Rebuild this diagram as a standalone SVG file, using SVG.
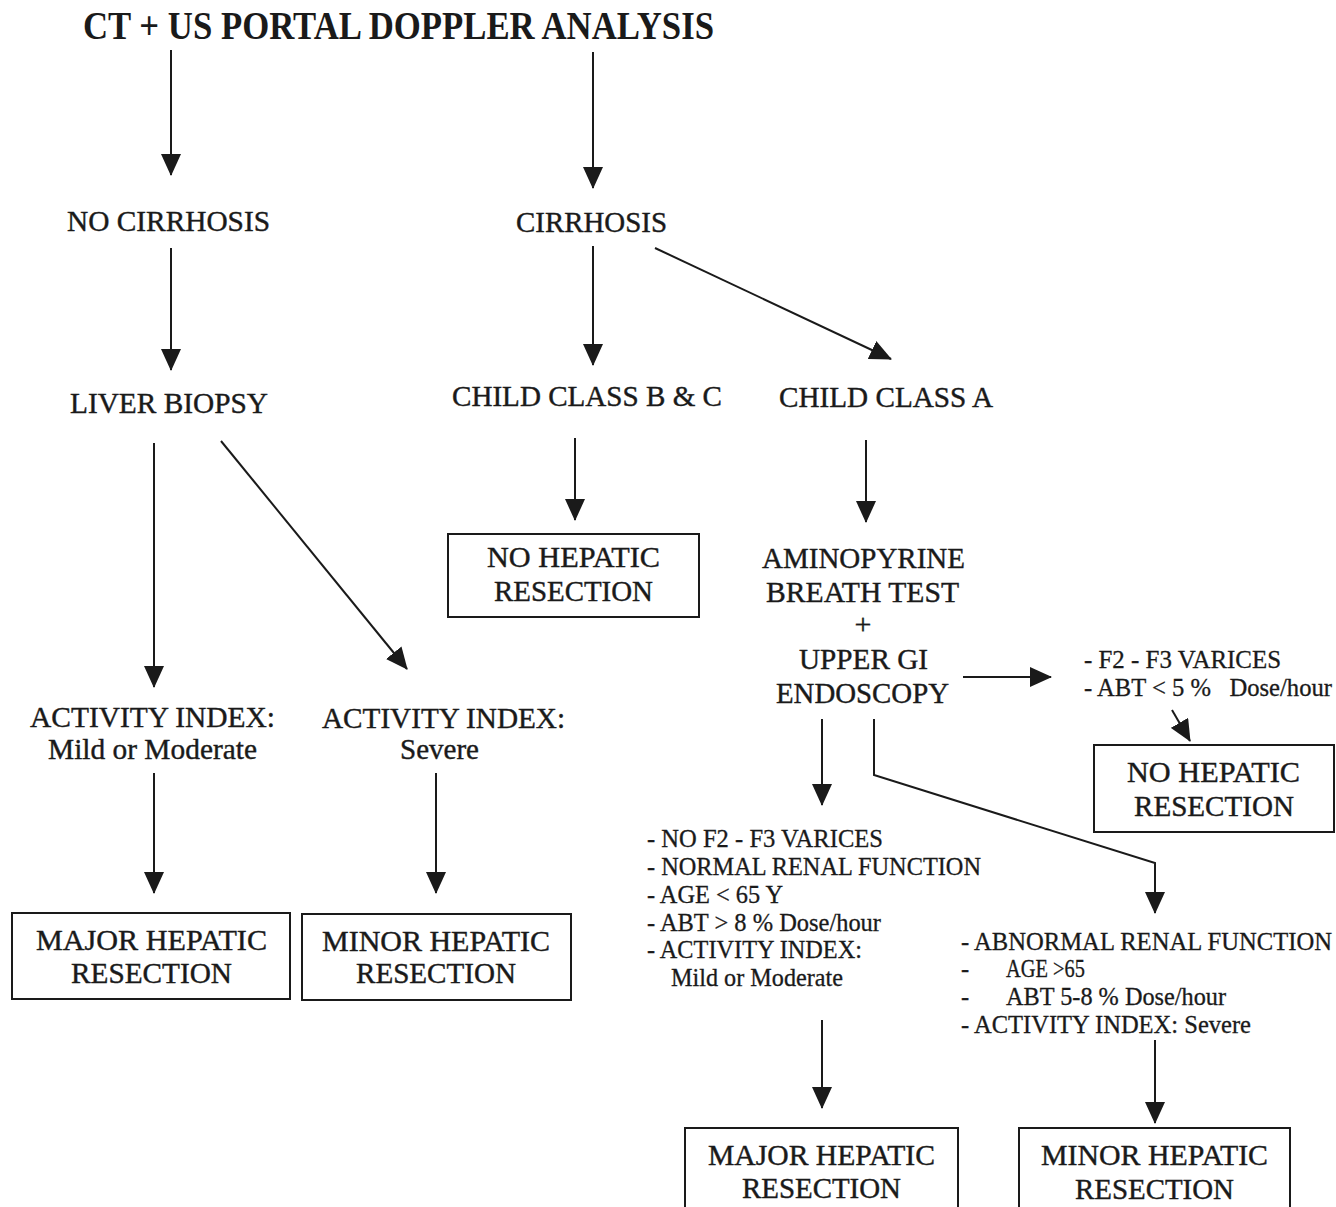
<svg xmlns="http://www.w3.org/2000/svg" width="1336" height="1207" viewBox="0 0 1336 1207">
<style>
text{font-family:"Liberation Serif","Times New Roman",serif;fill:#1a1a1a}
.t{font-size:41px;font-weight:bold}
.l{font-size:30px;stroke:#1a1a1a;stroke-width:0.4}
.s{font-size:24.5px;stroke:#1a1a1a;stroke-width:0.3}
.box{fill:none;stroke:#1a1a1a;stroke-width:2}
.c{fill:none;stroke:#1a1a1a;stroke-width:2}
</style>
<defs>
<marker id="ah" markerUnits="userSpaceOnUse" markerWidth="22" markerHeight="20" viewBox="0 0 22 20" refX="21" refY="10" orient="auto">
<path d="M0,0 L22,10 L0,20 Z" fill="#1a1a1a"/>
</marker>
</defs>
<rect width="1336" height="1207" fill="#fff"/>

<g id="title"><text class="t" x="83" y="39" textLength="631" lengthAdjust="spacingAndGlyphs">CT + US PORTAL DOPPLER ANALYSIS</text></g>
<g id="no-cirrhosis"><text class="l" x="67" y="231" textLength="203" lengthAdjust="spacingAndGlyphs">NO CIRRHOSIS</text></g>
<g id="cirrhosis"><text class="l" x="516" y="232" textLength="151" lengthAdjust="spacingAndGlyphs">CIRRHOSIS</text></g>
<g id="liver-biopsy"><text class="l" x="70" y="413" textLength="198" lengthAdjust="spacingAndGlyphs">LIVER BIOPSY</text></g>
<g id="child-bc"><text class="l" x="452" y="406" textLength="270" lengthAdjust="spacingAndGlyphs">CHILD CLASS B &amp; C</text></g>
<g id="child-a"><text class="l" x="779" y="407" textLength="214" lengthAdjust="spacingAndGlyphs">CHILD CLASS A</text></g>
<g id="no-resection-1">
<rect class="box" x="448" y="534" width="251" height="83"/>
<text class="l" x="487" y="567" textLength="173" lengthAdjust="spacingAndGlyphs">NO HEPATIC</text>
<text class="l" x="494" y="601" textLength="159" lengthAdjust="spacingAndGlyphs">RESECTION</text>
</g>
<g id="abt-endoscopy">
<text class="l" x="762" y="568" textLength="203" lengthAdjust="spacingAndGlyphs">AMINOPYRINE</text>
<text class="l" x="766" y="602" textLength="193" lengthAdjust="spacingAndGlyphs">BREATH TEST</text>
<text class="l" x="863" y="634" text-anchor="middle">+</text>
<text class="l" x="799" y="669" textLength="129" lengthAdjust="spacingAndGlyphs">UPPER GI</text>
<text class="l" x="776" y="703" textLength="173" lengthAdjust="spacingAndGlyphs">ENDOSCOPY</text>
</g>
<g id="varices-crit">
<text class="s" x="1084" y="668" textLength="197" lengthAdjust="spacingAndGlyphs">- F2 - F3 VARICES</text>
<text class="s" x="1084" y="696" textLength="248" lengthAdjust="spacingAndGlyphs" xml:space="preserve">- ABT &lt; 5 %   Dose/hour</text>
</g>
<g id="no-resection-2">
<rect class="box" x="1094" y="745" width="240" height="87"/>
<text class="l" x="1127" y="782" textLength="173" lengthAdjust="spacingAndGlyphs">NO HEPATIC</text>
<text class="l" x="1134" y="816" textLength="160" lengthAdjust="spacingAndGlyphs">RESECTION</text>
</g>
<g id="ai-mild">
<text class="l" x="30" y="727" textLength="245" lengthAdjust="spacingAndGlyphs">ACTIVITY INDEX:</text>
<text class="l" x="48" y="759" textLength="209" lengthAdjust="spacingAndGlyphs">Mild or Moderate</text>
</g>
<g id="ai-severe">
<text class="l" x="322" y="728" textLength="243" lengthAdjust="spacingAndGlyphs">ACTIVITY INDEX:</text>
<text class="l" x="400" y="759" textLength="79" lengthAdjust="spacingAndGlyphs">Severe</text>
</g>
<g id="major-1">
<rect class="box" x="12" y="913" width="278" height="86"/>
<text class="l" x="36" y="950" textLength="231" lengthAdjust="spacingAndGlyphs">MAJOR HEPATIC</text>
<text class="l" x="71" y="983" textLength="161" lengthAdjust="spacingAndGlyphs">RESECTION</text>
</g>
<g id="minor-1">
<rect class="box" x="302" y="914" width="269" height="86"/>
<text class="l" x="322" y="951" textLength="228" lengthAdjust="spacingAndGlyphs">MINOR HEPATIC</text>
<text class="l" x="356" y="983" textLength="160" lengthAdjust="spacingAndGlyphs">RESECTION</text>
</g>
<g id="criteria-major">
<text class="s" x="647" y="847" textLength="236" lengthAdjust="spacingAndGlyphs">- NO F2 - F3 VARICES</text>
<text class="s" x="647" y="875" textLength="334" lengthAdjust="spacingAndGlyphs">- NORMAL RENAL FUNCTION</text>
<text class="s" x="647" y="903" textLength="136" lengthAdjust="spacingAndGlyphs">- AGE &lt; 65 Y</text>
<text class="s" x="647" y="931" textLength="234" lengthAdjust="spacingAndGlyphs">- ABT &gt; 8 % Dose/hour</text>
<text class="s" x="647" y="958" textLength="215" lengthAdjust="spacingAndGlyphs">- ACTIVITY INDEX:</text>
<text class="s" x="671" y="986" textLength="172" lengthAdjust="spacingAndGlyphs">Mild or Moderate</text>
</g>
<g id="criteria-minor">
<text class="s" x="961" y="950" textLength="371" lengthAdjust="spacingAndGlyphs">- ABNORMAL RENAL FUNCTION</text>
<text class="s" x="961" y="977">-</text>
<text class="s" x="1006" y="977" textLength="79" lengthAdjust="spacingAndGlyphs">AGE &gt;65</text>
<text class="s" x="961" y="1005">-</text>
<text class="s" x="1006" y="1005" textLength="220" lengthAdjust="spacingAndGlyphs">ABT 5-8 % Dose/hour</text>
<text class="s" x="961" y="1033" textLength="290" lengthAdjust="spacingAndGlyphs">- ACTIVITY INDEX: Severe</text>
</g>
<g id="major-2">
<rect class="box" x="685" y="1128" width="273" height="100"/>
<text class="l" x="708" y="1165" textLength="227" lengthAdjust="spacingAndGlyphs">MAJOR HEPATIC</text>
<text class="l" x="742" y="1198" textLength="159" lengthAdjust="spacingAndGlyphs">RESECTION</text>
</g>
<g id="minor-2">
<rect class="box" x="1019" y="1128" width="271" height="100"/>
<text class="l" x="1041" y="1165" textLength="227" lengthAdjust="spacingAndGlyphs">MINOR HEPATIC</text>
<text class="l" x="1075" y="1199" textLength="159" lengthAdjust="spacingAndGlyphs">RESECTION</text>
</g>

<g id="connectors" class="c">
<line class="c" x1="171" y1="50" x2="171" y2="175" marker-end="url(#ah)"/>
<line class="c" x1="593" y1="52" x2="593" y2="188" marker-end="url(#ah)"/>
<line class="c" x1="171" y1="248" x2="171" y2="370" marker-end="url(#ah)"/>
<line class="c" x1="593" y1="246" x2="593" y2="365" marker-end="url(#ah)"/>
<line class="c" x1="655" y1="248" x2="891" y2="359" marker-end="url(#ah)"/>
<line class="c" x1="154" y1="443" x2="154" y2="687" marker-end="url(#ah)"/>
<line class="c" x1="221" y1="441" x2="407" y2="669" marker-end="url(#ah)"/>
<line class="c" x1="575" y1="438" x2="575" y2="520" marker-end="url(#ah)"/>
<line class="c" x1="866" y1="440" x2="866" y2="522" marker-end="url(#ah)"/>
<line class="c" x1="963" y1="677" x2="1051" y2="677" marker-end="url(#ah)"/>
<line class="c" x1="1172" y1="710" x2="1190" y2="741" marker-end="url(#ah)"/>
<line class="c" x1="822" y1="719" x2="822" y2="805" marker-end="url(#ah)"/>
<polyline class="c" points="874,719 874,775 1155,863 1155,913" marker-end="url(#ah)"/>
<line class="c" x1="154" y1="773" x2="154" y2="893" marker-end="url(#ah)"/>
<line class="c" x1="436" y1="773" x2="436" y2="893" marker-end="url(#ah)"/>
<line class="c" x1="822" y1="1020" x2="822" y2="1108" marker-end="url(#ah)"/>
<line class="c" x1="1155" y1="1040" x2="1155" y2="1123" marker-end="url(#ah)"/>
</g>
</svg>
